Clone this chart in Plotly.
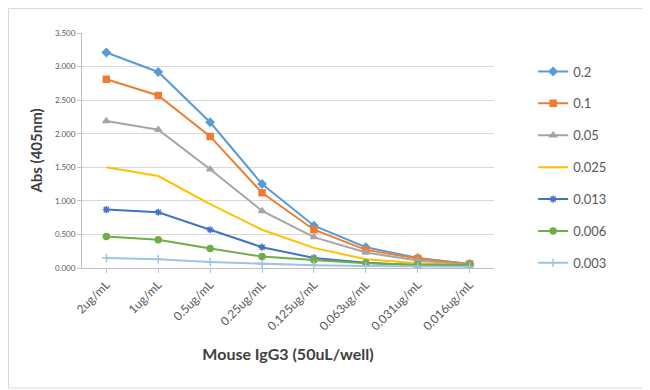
import plotly.graph_objects as go

categories = ["2ug/mL", "1ug/mL", "0.5ug/mL", "0.25ug/mL", "0.125ug/mL", "0.063ug/mL", "0.031ug/mL", "0.016ug/mL"]
series_names = ["0.2", "0.1", "0.05", "0.025", "0.013", "0.006", "0.003"]
s_02 = [3.21, 2.92, 2.17, 1.25, 0.63, 0.31, 0.15, 0.06]
s_01 = [2.81, 2.57, 1.96, 1.12, 0.57, 0.27, 0.14, 0.06]
s_005 = [2.19, 2.06, 1.47, 0.85, 0.46, 0.23, 0.11, 0.05]
s_0025 = [1.50, 1.37, 0.95, 0.57, 0.30, 0.13, 0.07, 0.04]
s_0013 = [0.87, 0.83, 0.57, 0.31, 0.15, 0.08, 0.04, 0.03]
s_0006 = [0.47, 0.42, 0.29, 0.17, 0.12, 0.07, 0.05, 0.05]
s_0003 = [0.15, 0.13, 0.09, 0.06, 0.04, 0.03, 0.02, 0.02]
values = [s_02, s_01, s_005, s_0025, s_0013, s_0006, s_0003]

colors = ["#5B9BD5", "#ED7D31", "#A5A5A5", "#FFC000", "#4472C4", "#70AD47", "#9DC3E6"]
symbols = ["diamond", "square", "triangle-up", "x-thin", "asterisk", "circle", "cross-thin"]
msizes = [6, 6, 6, 0, 6, 6, 6]

fig = go.Figure()
for i, (name, vals) in enumerate(zip(series_names, values)):
    mode = "lines+markers" if msizes[i] else "lines"
    fig.add_trace(go.Scatter(
        x=categories, y=vals, name=name, mode=mode,
        legendgroup=name,
        line=dict(color=colors[i], width=2),
        marker=dict(symbol=symbols[i], size=msizes[i], color=colors[i],
                    line=dict(color=colors[i], width=1.5)),
    ))

# page body adds ~8px offset; compensate in margins
OFF = 8
W, H = 650, 390
L, R, T, B = 82 - OFF, 156 + OFF, 33 - OFF, 122 + OFF
pw, ph = W - L - R, H - T - B

fig.update_layout(
    width=W, height=H,
    margin=dict(l=L, r=R, t=T, b=B),
    paper_bgcolor="white", plot_bgcolor="white",
    font=dict(family="Lato, Open Sans, sans-serif", color="#595959"),
    xaxis=dict(
        type="category", tickangle=-45, tickfont=dict(size=12, color="#595959"),
        showgrid=False, showline=True, linecolor="#BFBFBF", linewidth=1,
        ticks="outside", ticklen=4, tickcolor="#BFBFBF",
        title=dict(text="<b>Mouse IgG3 (50uL/well)</b>", font=dict(size=16, color="#404040"), standoff=16),
    ),
    yaxis=dict(
        range=[0, 3.5], dtick=0.5, tickformat=".3f",
        tickfont=dict(size=8, color="#595959"),
        showgrid=True, gridcolor="#D9D9D9", gridwidth=1,
        showline=True, linecolor="#BFBFBF", zeroline=False,
        ticks="outside", ticklen=4, tickcolor="#BFBFBF",
        title=dict(text="<b>Abs (405nm)</b>", font=dict(size=15, color="#404040"), standoff=8),
    ),
    legend=dict(
        x=1.095, y=0.9, xanchor="left", yanchor="top",
        font=dict(size=13, color="#595959"),
        tracegroupgap=12, itemwidth=30,
        bgcolor="rgba(0,0,0,0)",
    ),
    shapes=[dict(type="rect", xref="paper", yref="paper",
                 x0=(0.5 - L) / pw, x1=(637 - L) / pw,
                 y0=-(380 - T - ph) / ph, y1=1 + (T - 0.5) / ph,
                 line=dict(color="#D9D9D9", width=1))],
)

fig.write_html("out.html")
